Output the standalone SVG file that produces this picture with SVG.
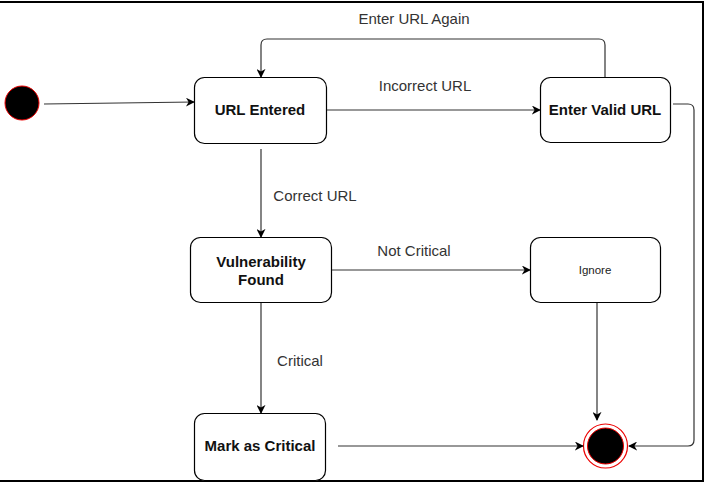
<svg xmlns="http://www.w3.org/2000/svg" width="707" height="484" viewBox="0 0 707 484">
<style>
.box{fill:#fff;stroke:#000;stroke-width:1.2}
.nt{font-family:"Liberation Sans",Arial,sans-serif;font-size:15px;font-weight:bold;fill:#111;text-anchor:middle}
.lbl{font-family:"Liberation Sans",Arial,sans-serif;font-size:15px;fill:#333;text-anchor:middle}
.edge{fill:none;stroke:#333;stroke-width:1.2}
</style>
<defs>
<marker id="ah" viewBox="0 0 10 10" refX="9" refY="5" markerWidth="9" markerHeight="9" markerUnits="userSpaceOnUse" orient="auto">
<path d="M0,0 L10,5 L0,10 L3,5 Z" fill="#000"/>
</marker>
</defs>
<rect width="707" height="484" fill="#fff"/>
<path d="M0,2 H703 V481 H0" fill="none" stroke="#000" stroke-width="2"/>
<g id="start"><circle cx="22" cy="103" r="17" fill="#000" stroke="#e00" stroke-width="1"/></g>
<g id="urlEntered"><rect class="box" x="194.5" y="77.5" width="132" height="66" rx="10"/><text class="nt" x="260" y="115">URL Entered</text></g>
<g id="enterValid"><rect class="box" x="540.5" y="77.5" width="130" height="65" rx="10"/><text class="nt" x="605" y="115">Enter Valid URL</text></g>
<g id="vuln"><rect class="box" x="190.5" y="237.5" width="141" height="65" rx="10"/><text class="nt" x="261" y="267">Vulnerability</text><text class="nt" x="261" y="285">Found</text></g>
<g id="ignore"><rect class="box" x="530.5" y="237.5" width="130" height="65" rx="10"/><text x="595" y="274" style="font-family:'Liberation Sans',Arial,sans-serif;font-size:11.5px;fill:#222;text-anchor:middle">Ignore</text></g>
<g id="markCritical"><rect class="box" x="194.5" y="413.5" width="131" height="67" rx="10"/><text class="nt" x="260" y="451">Mark as Critical</text></g>
<g id="end"><circle cx="605.5" cy="446" r="22" fill="#fff" stroke="#e00" stroke-width="1.2"/><circle cx="605.5" cy="446" r="18" fill="#000" stroke="#e00" stroke-width="1"/></g>
<g id="connectors">
<path class="edge" d="M44,104 L194,102" marker-end="url(#ah)"/>
<path class="edge" d="M327,110 H540" marker-end="url(#ah)"/>
<path class="edge" d="M605,77 V45 Q605,39 599,39 H267 Q261,39 261,45 V77" marker-end="url(#ah)"/>
<path class="edge" d="M261,149 V237" marker-end="url(#ah)"/>
<path class="edge" d="M332,270 H530" marker-end="url(#ah)"/>
<path class="edge" d="M261,303 V413" marker-end="url(#ah)"/>
<path class="edge" d="M338,446 H583" marker-end="url(#ah)"/>
<path class="edge" d="M597,303 V420" marker-end="url(#ah)"/>
<path class="edge" d="M673,104 H688 Q694,104 694,110 V440 Q694,446 688,446 H629" marker-end="url(#ah)"/>
<text class="lbl" x="414" y="24">Enter URL Again</text>
<text class="lbl" x="425" y="91">Incorrect URL</text>
<text class="lbl" x="315" y="201">Correct URL</text>
<text class="lbl" x="414" y="256">Not Critical</text>
<text class="lbl" x="300" y="366">Critical</text>
</g>
</svg>
